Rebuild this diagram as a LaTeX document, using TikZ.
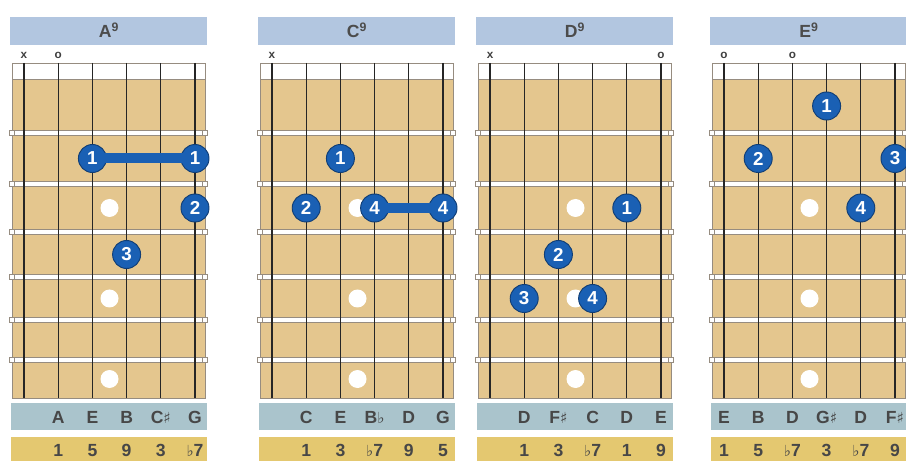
\documentclass[tikz,border=0pt]{standalone}
\usepackage{fontspec}
\setmainfont{Liberation Sans}
\newfontfamily\musicfont{DejaVu Sans}
\usepackage{tikz}
\usetikzlibrary{positioning, calc}
\definecolor{titleblue}{RGB}{178,198,224}
\definecolor{noteblue}{RGB}{170,196,204}
\definecolor{degreegold}{RGB}{228,200,112}
\definecolor{boardtan}{RGB}{228,198,142}
\definecolor{fingerblue}{RGB}{26,96,180}
\definecolor{fretgray}{RGB}{150,140,128}
\newcommand{\sharpsign}{{\musicfont\fontsize{13}{13}\selectfont ♯}}
\newcommand{\flatsign}{{\musicfont\fontsize{13}{13}\selectfont ♭}}

\begin{document}
\begin{tikzpicture}[
    x=0.03cm, y=-0.03cm,
    titlebar/.style={fill=titleblue},
    titlelabel/.style={font=\fontsize{15}{15}\selectfont\bfseries, text=black!70, inner sep=0pt, anchor=base},
    string/.style={line width=1pt, draw=black!85},
    inlay/.style={circle, fill=white, minimum size=0.54cm, inner sep=0pt},
    finger/.style={circle, fill=fingerblue, draw=fingerblue!65!black, line width=0.8pt, minimum size=0.84cm, inner sep=0pt, text=white, font=\fontsize{16}{16}\selectfont\bfseries},
    barre/.style={draw=fingerblue, line width=0.3cm, shorten <=-5pt, shorten >=-5pt},
    stringmark/.style={font=\fontsize{10}{10}\selectfont\bfseries, text=black!75, inner sep=0pt},
    notelabel/.style={font=\fontsize{15}{15}\selectfont\bfseries, text=black!72, inner sep=0pt, anchor=base},
    degreelabel/.style={font=\fontsize{15}{15}\selectfont\bfseries, text=black!72, inner sep=0pt, anchor=base}
]
    \useasboundingbox (0,0) rectangle (906,461);

    % Fretboards
    \foreach \bx/\name/\title in {12/a/A, 260/c/C, 478/d/D, 712/e/E} {
        \fill[titlebar] (\bx-2,17) rectangle (\bx+195,45);
        \node[titlelabel] (\name-title) at (\bx+97,38) {\title\textsuperscript{9}};
        \fill[boardtan] (\bx,79) rectangle (\bx+193,398);
        \fill[white] (\bx,63) rectangle (\bx+193,79);
        \draw[fretgray] (\bx,63) rectangle (\bx+193,398) (\bx,79) -- (\bx+193,79);
        \foreach \fy in {133,184,232,277,320,360} {
            \fill[white] (\bx,\fy-2.5) rectangle (\bx+193,\fy+2.5);
            \draw[fretgray, thin] (\bx,\fy-2.5) -- (\bx+193,\fy-2.5) (\bx,\fy+2.5) -- (\bx+193,\fy+2.5);
            \draw[fretgray, fill=white, thin] (\bx-2.5,\fy-2.5) rectangle (\bx+2.5,\fy+2.5);
            \draw[fretgray, fill=white, thin] (\bx+190.5,\fy-2.5) rectangle (\bx+195.5,\fy+2.5);
        }
        \foreach \s in {0,...,5}
            \draw[string] (\bx+12+34.2*\s,63) -- (\bx+12+34.2*\s,398);
        \foreach \dy in {208,298.5,379}
            \node[inlay] (\name-dot\dy) at (\bx+97.5,\dy) {};
        % note and degree bars
        \fill[noteblue] (\bx-1,403) rectangle (\bx+195,430);
        \fill[degreegold] (\bx-1,437) rectangle (\bx+195,465);
    }

    % Open and muted strings
    \node[stringmark] (a-x) at (24,55) {x};
    \node[stringmark] (a-o) at (58.2,55) {o};
    \node[stringmark] (c-x) at (272,55) {x};
    \node[stringmark] (d-x) at (490,55) {x};
    \node[stringmark] (d-o) at (661,55) {o};
    \node[stringmark] (e-o1) at (724,55) {o};
    \node[stringmark] (e-o3) at (792.4,55) {o};

    % A9
    \node[finger] (a1) at (92.4,158.5) {1};
    \node[finger] (a1b) at (195,158.5) {1};
    \node[finger] (a2) at (195,208) {2};
    \node[finger] (a3) at (126.6,254.5) {3};
    \draw[barre] (a1.east) -- (a1b.west);

    % C9
    \node[finger] (c1) at (340.4,158.5) {1};
    \node[finger] (c2) at (306.2,208) {2};
    \node[finger] (c4) at (374.6,208) {4};
    \node[finger] (c4b) at (443,208) {4};
    \draw[barre] (c4.east) -- (c4b.west);

    % D9
    \node[finger] (d1) at (626.8,208) {1};
    \node[finger] (d2) at (558.4,254.5) {2};
    \node[finger] (d3) at (524.2,298.5) {3};
    \node[finger] (d4) at (592.6,298.5) {4};

    % E9
    \node[finger] (e1) at (826.6,106) {1};
    \node[finger] (e2) at (758.2,158.5) {2};
    \node[finger] (e3) at (895,158.5) {3};
    \node[finger] (e4) at (860.8,208) {4};

    % Notes and degrees
    \foreach \s/\nt/\dg in {1/A/1, 2/E/5, 3/B/9, 4/{C\sharpsign}/3, 5/G/{\flatsign7}} {
        \node[notelabel] (a-note\s) at (24+34.2*\s,423) {\nt};
        \node[degreelabel] (a-deg\s) at (24+34.2*\s,456) {\dg};
    }
    \foreach \s/\nt/\dg in {1/C/1, 2/E/3, 3/{B\flatsign}/{\flatsign7}, 4/D/9, 5/G/5} {
        \node[notelabel] (c-note\s) at (272+34.2*\s,423) {\nt};
        \node[degreelabel] (c-deg\s) at (272+34.2*\s,456) {\dg};
    }
    \foreach \s/\nt/\dg in {1/D/1, 2/{F\sharpsign}/3, 3/C/{\flatsign7}, 4/D/1, 5/E/9} {
        \node[notelabel] (d-note\s) at (490+34.2*\s,423) {\nt};
        \node[degreelabel] (d-deg\s) at (490+34.2*\s,456) {\dg};
    }
    \foreach \s/\nt/\dg in {0/E/1, 1/B/5, 2/D/{\flatsign7}, 3/{G\sharpsign}/3, 4/D/{\flatsign7}, 5/{F\sharpsign}/9} {
        \node[notelabel] (e-note\s) at (724+34.2*\s,423) {\nt};
        \node[degreelabel] (e-deg\s) at (724+34.2*\s,456) {\dg};
    }
\end{tikzpicture}
\end{document}
